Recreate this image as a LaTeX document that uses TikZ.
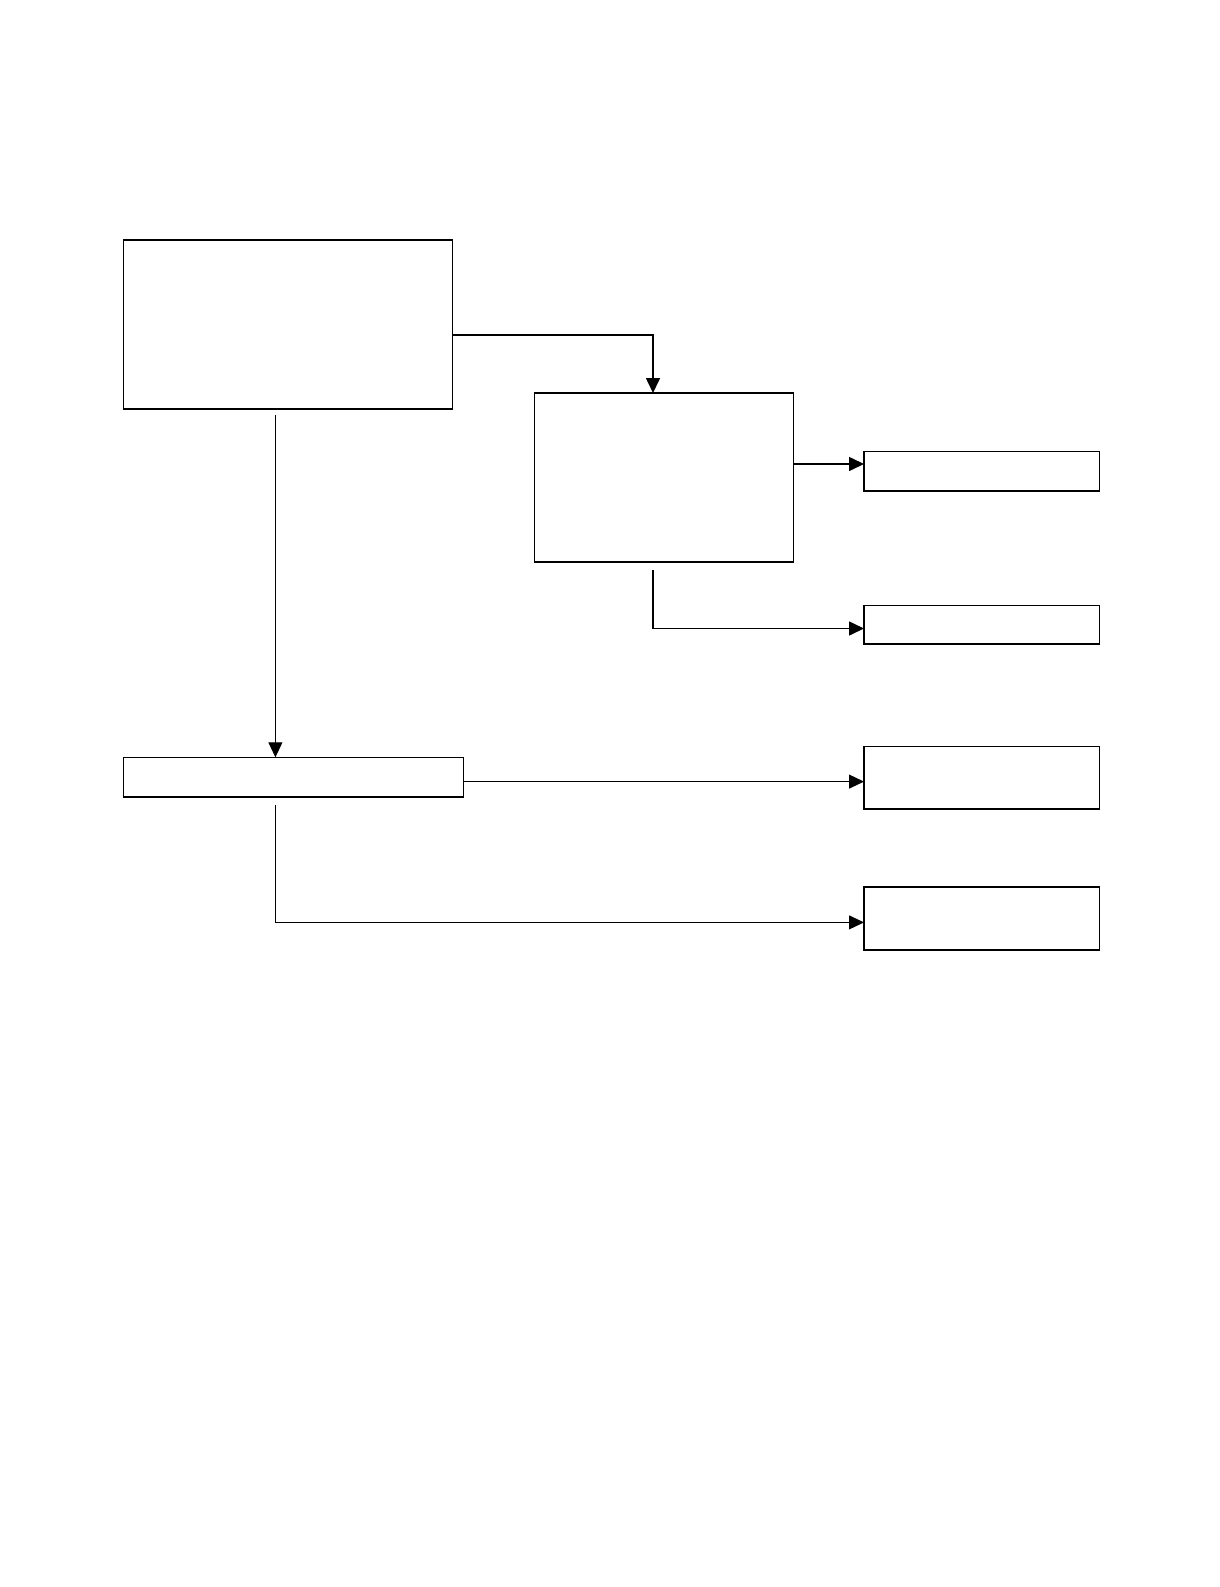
\documentclass[tikz,border=0pt]{standalone}
\usetikzlibrary{arrows.meta}
\tikzset{
  box/.style={draw, line width=1.4pt, inner sep=0pt, outer sep=0pt, anchor=north west},
  thinconn/.style={line width=1pt},
  thickconn/.style={line width=1.6pt},
  tip/.style={-{Triangle[length=15pt,width=14pt]}}
}
\begin{document}
\begin{tikzpicture}[x=1pt,y=-1pt]
\useasboundingbox[fill=white] (0,0) rectangle (1219,1587);
% boxes
\node[box, minimum width=329pt, minimum height=169pt] (A) at (123.5,240) {};
\node[box, minimum width=259pt, minimum height=169pt] (B) at (534.6,393) {};
\node[box, minimum width=235.6pt, minimum height=39.4pt] (R1) at (864,451.6) {};
\node[box, minimum width=235.6pt, minimum height=38.5pt] (R2) at (864,605.5) {};
\node[box, minimum width=340.2pt, minimum height=39.5pt] (C) at (123.5,757.3) {};
\node[box, minimum width=235.6pt, minimum height=62.8pt] (R3) at (864,746.2) {};
\node[box, minimum width=235.6pt, minimum height=63pt] (R4) at (864,887) {};
% free ends
\coordinate (bd) at (653,570);
\coordinate (ad) at (275.4,415);
\coordinate (cd) at (275.4,805);
% connectors
\draw[thickconn,tip] (A.east |- 0,335) -| (653,0 |- B.north);
\draw[thickconn,tip] (B.east |- 0,464) -- (R1.west |- 0,464);
\draw[thickconn,tip] (bd) |- (R2.west |- 0,628.5);
\draw[thinconn,tip] (ad) -- (275.4,0 |- C.north);
\draw[thinconn,tip] (C.east |- 0,781.6) -- (R3.west |- 0,781.6);
\draw[thinconn,tip] (cd) |- (R4.west |- 0,922.4);
\end{tikzpicture}
\end{document}
